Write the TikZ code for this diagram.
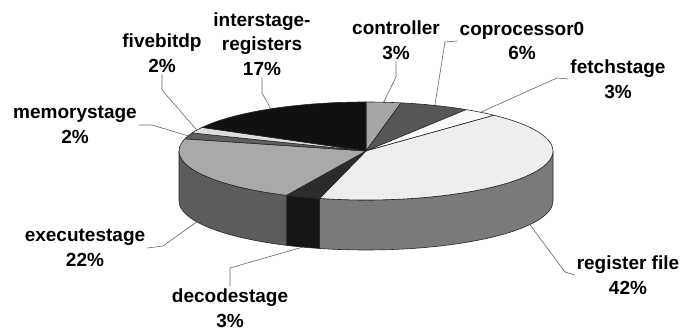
\documentclass[tikz,border=0pt]{standalone}
\usepackage{fontspec}
\setmainfont{Liberation Sans}
\definecolor{ctlT}{HTML}{A6A6A6}
\definecolor{copT}{HTML}{575757}
\definecolor{fetT}{HTML}{FAFAFA}
\definecolor{regT}{HTML}{EEEEEE}
\definecolor{regS}{HTML}{7A7A7A}
\definecolor{decT}{HTML}{2C2C2C}
\definecolor{decS}{HTML}{161616}
\definecolor{exeT}{HTML}{A9A9A9}
\definecolor{exeS}{HTML}{5C5C5C}
\definecolor{memT}{HTML}{5E5E5E}
\definecolor{fivT}{HTML}{DDDDDD}
\definecolor{intT}{HTML}{111111}
\begin{document}
\begin{tikzpicture}[x=1pt,y=1pt,
  lbl/.style={align=center, font=\fontsize{19}{24.5}\selectfont\bfseries, inner sep=2pt},
  leader/.style={draw=black!60, line width=0.6pt},
  slice/.style={draw=black!85, line width=0.6pt, line join=round}]
\useasboundingbox (0,0) rectangle (694,329);
\begin{scope}[shift={(366,178)}]
  % side faces
  \path[slice, fill=regS] (-104.4:187 and 49) -- ++(0,-50)
     arc[start angle=-104.4, end angle=0, x radius=187, y radius=49] -- ++(0,50)
     arc[start angle=0, end angle=-104.4, x radius=187, y radius=49] -- cycle;
  \path[slice, fill=decS] (-115.2:187 and 49) -- ++(0,-50)
     arc[start angle=-115.2, end angle=-104.4, x radius=187, y radius=49] -- ++(0,50)
     arc[start angle=-104.4, end angle=-115.2, x radius=187, y radius=49] -- cycle;
  \path[slice, fill=exeS] (-180:187 and 49) -- ++(0,-50)
     arc[start angle=-180, end angle=-115.2, x radius=187, y radius=49] -- ++(0,50)
     arc[start angle=-115.2, end angle=-180, x radius=187, y radius=49] -- cycle;
  % top faces
  \path[slice, fill=ctlT] (0,0) -- (79.2:187 and 49) arc[start angle=79.2, end angle=90, x radius=187, y radius=49] -- cycle;
  \path[slice, fill=copT] (0,0) -- (57.6:187 and 49) arc[start angle=57.6, end angle=79.2, x radius=187, y radius=49] -- cycle;
  \path[slice, fill=fetT] (0,0) -- (46.8:187 and 49) arc[start angle=46.8, end angle=57.6, x radius=187, y radius=49] -- cycle;
  \path[slice, fill=regT] (0,0) -- (-104.4:187 and 49) arc[start angle=-104.4, end angle=46.8, x radius=187, y radius=49] -- cycle;
  \path[slice, fill=decT] (0,0) -- (-115.2:187 and 49) arc[start angle=-115.2, end angle=-104.4, x radius=187, y radius=49] -- cycle;
  \path[slice, fill=exeT] (0,0) -- (165.6:187 and 49) arc[start angle=165.6, end angle=244.8, x radius=187, y radius=49] -- cycle;
  \path[slice, fill=memT] (0,0) -- (158.4:187 and 49) arc[start angle=158.4, end angle=165.6, x radius=187, y radius=49] -- cycle;
  \path[slice, fill=fivT] (0,0) -- (151.2:187 and 49) arc[start angle=151.2, end angle=158.4, x radius=187, y radius=49] -- cycle;
  \path[slice, fill=intT] (0,0) -- (90:187 and 49) arc[start angle=90, end angle=151.2, x radius=187, y radius=49] -- cycle;
  % leader end points on the pie
  \coordinate (pInt) at (120.6:187 and 49);
  \coordinate (pCtl) at (84.6:187 and 49);
  \coordinate (pCop) at (68.4:187 and 49);
  \coordinate (pFet) at (52.2:187 and 49);
  \coordinate (pFiv) at (154.8:187 and 49);
  \coordinate (pMem) at (162:187 and 49);
  \begin{scope}[yshift=-50pt]
    \coordinate (pExe) at (-154.8:187 and 49);
    \coordinate (pDec) at (-109.8:187 and 49);
    \coordinate (pReg) at (-28.8:187 and 49);
  \end{scope}
\end{scope}
% labels
\node[lbl] (lInt) at (262,285) {interstage-\\registers\\17\%};
\node[lbl] (lCtl) at (396,289) {controller\\3\%};
\node[lbl] (lCop) at (522,288) {coprocessor0\\6\%};
\node[lbl] (lFet) at (618,250) {fetchstage\\3\%};
\node[lbl] (lFiv) at (162,276) {fivebitdp\\2\%};
\node[lbl] (lMem) at (75,204) {memorystage\\2\%};
\node[lbl] (lExe) at (85,81) {executestage\\22\%};
\node[lbl] (lDec) at (230,21) {decodestage\\3\%};
\node[lbl] (lReg) at (628,54) {register file\\42\%};
% bend points
\coordinate (bInt) at (262,236);
\coordinate (bCtl) at (396,252);
\coordinate (bCop) at (445,287);
\coordinate (bFet) at (557,251);
\coordinate (bFiv) at (162,239);
\coordinate (bMem) at (152,204);
\coordinate (bExe) at (163,83);
\coordinate (bDec) at (230,61);
\coordinate (bReg) at (565,57);
% leaders
\draw[leader] (lInt.south) -- (bInt) -- (pInt);
\draw[leader] (lCtl.south) -- (bCtl) -- (pCtl);
\draw[leader] (lCop.west) -- (bCop) -- (pCop);
\draw[leader] (lFet.west) -- (bFet) -- (pFet);
\draw[leader] (lFiv.south) -- (bFiv) -- (pFiv);
\draw[leader] (lMem.east) -- (bMem) -- (pMem);
\draw[leader] (lExe.east) -- (bExe) -- (pExe);
\draw[leader] (lDec.north) -- (bDec) -- (pDec);
\draw[leader] (lReg.west) -- (bReg) -- (pReg);
\end{tikzpicture}
\end{document}
